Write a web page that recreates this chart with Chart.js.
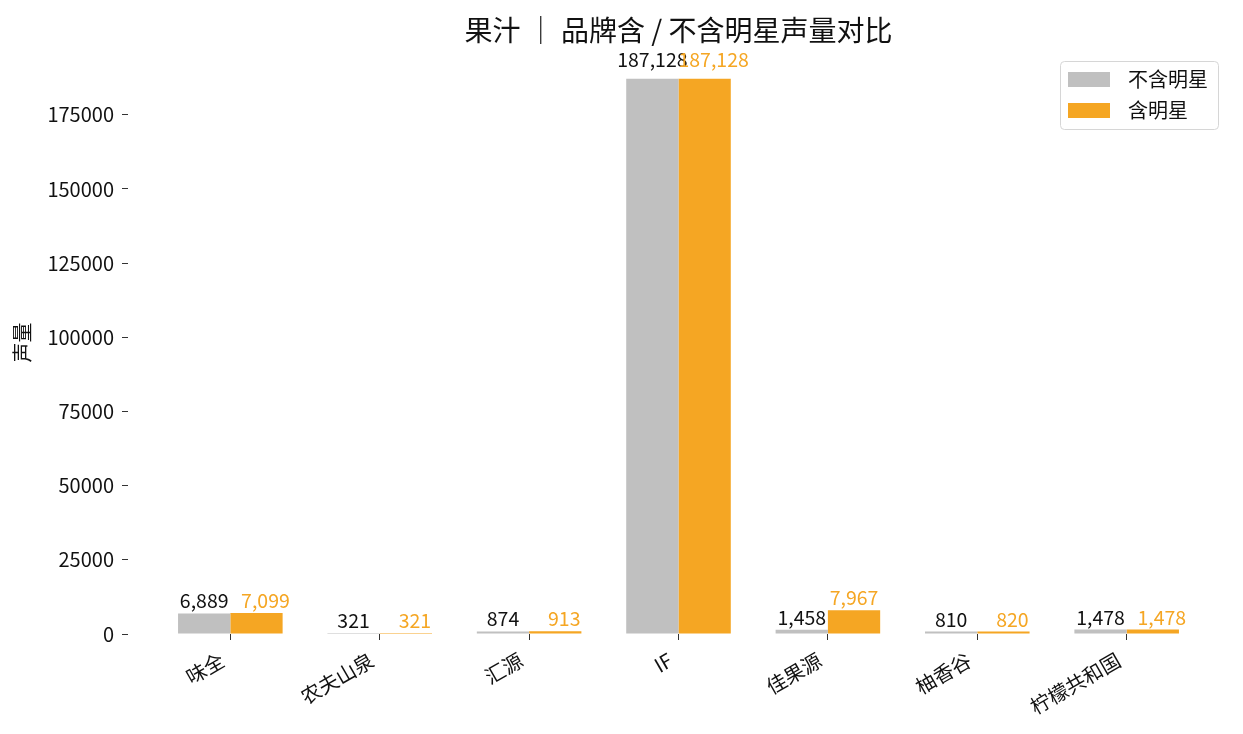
<!DOCTYPE html>
<html>
<head>
<meta charset="utf-8">
<script src="https://cdn.jsdelivr.net/npm/chart.js@4.4.1/dist/chart.umd.min.js"></script>
<style>
  html, body { margin: 0; padding: 0; background: #fff; }
  #wrap { width: 1243px; height: 734px; position: relative; }
</style>
</head>
<body>
<div id="wrap"><canvas id="juiceChart"></canvas></div>
<script>
// 数据
const brands = ['味全', '农夫山泉', '汇源', 'IF', '佳果源', '柚香谷', '柠檬共和国'];
const noStar = [6889, 321, 874, 187128, 1458, 810, 1478];
const withStar = [7099, 321, 913, 187128, 7967, 820, 1478];
const yTicks = [0, 25000, 50000, 75000, 100000, 125000, 150000, 175000];
const chartTitle = '果汁 ｜ 品牌含 / 不含明星声量对比';

const FONT = '"Noto Sans CJK SC", "Noto Sans", sans-serif';
const GREY = '#c0c0c0';
const ORANGE = '#f5a623';

// 标题:居中于绘图区上方
const axesTitle = {
    id: 'axesTitle',
    afterDraw(chart) {
        const ctx = chart.ctx;
        const area = chart.chartArea;
        ctx.save();
        ctx.font = '28px ' + FONT;
        ctx.fillStyle = '#111';
        ctx.textAlign = 'center';
        ctx.textBaseline = 'middle';
        ctx.fillText(chartTitle, (area.left + area.right) / 2, 30);
        ctx.restore();
    }
};

// 柱顶数值标签(两值接近时,含明星标签右移避免重叠)
const valueLabels = {
    id: 'valueLabels',
    afterDatasetsDraw(chart) {
        const ctx = chart.ctx;
        const base = chart.scales.y.getPixelForValue(0);
        ctx.save();
        ctx.font = '19.5px ' + FONT;
        ctx.textAlign = 'center';
        ctx.textBaseline = 'alphabetic';
        chart.data.datasets.forEach((ds, i) => {
            const meta = chart.getDatasetMeta(i);
            ctx.fillStyle = ds.labelColor;
            meta.data.forEach((bar, j) => {
                const a = noStar[j], b = withStar[j];
                const close = Math.abs(a - b) / Math.max(a, b) < 0.2;
                const dx = (i === 1 && close) ? 9 : 0;
                const gap = 5 + 0.0125 * (base - bar.y);
                ctx.fillText(ds.data[j].y.toLocaleString('en-US'), bar.x + dx, bar.y - gap);
            });
        });
        ctx.restore();
    }
};

// 图例(带边框,位于绘图区右上角)
const boxLegend = {
    id: 'boxLegend',
    afterDraw(chart) {
        const ctx = chart.ctx;
        const area = chart.chartArea;
        const w = 158, h = 68;
        const x = area.right - 11 - w, y = area.top + 10;
        ctx.save();
        ctx.beginPath();
        ctx.roundRect(x + 0.5, y + 0.5, w, h, 4);
        ctx.fillStyle = 'rgba(255,255,255,0.8)';
        ctx.fill();
        ctx.strokeStyle = '#d6d6d6';
        ctx.lineWidth = 1;
        ctx.stroke();
        ctx.font = '20px ' + FONT;
        ctx.textBaseline = 'middle';
        chart.data.datasets.forEach((ds, i) => {
            const cy = y + 18 + i * 31;
            ctx.fillStyle = ds.backgroundColor;
            ctx.fillRect(x + 8, cy - 7, 42, 15);
            ctx.fillStyle = '#111';
            ctx.fillText(ds.label, x + 68, cy);
        });
        ctx.restore();
    }
};

new Chart(document.getElementById('juiceChart'), {
    type: 'bar',
    data: {
        datasets: [
            {
                label: '不含明星',
                data: brands.map((b, i) => ({ x: i, y: noStar[i] })),
                backgroundColor: GREY,
                labelColor: '#111'
            },
            {
                label: '含明星',
                data: brands.map((b, i) => ({ x: i, y: withStar[i] })),
                backgroundColor: ORANGE,
                labelColor: ORANGE
            }
        ]
    },
    options: {
        responsive: true,
        maintainAspectRatio: false,
        animation: false,
        categoryPercentage: 0.7,
        barPercentage: 1.0,
        layout: { padding: { left: 0, right: 14, top: 51, bottom: 0 } },
        plugins: {
            legend: { display: false },
            tooltip: { enabled: false },
            title: { display: false }
        },
        scales: {
            x: {
                type: 'linear',
                offset: false,
                min: -0.685,
                max: 6.685,
                afterBuildTicks: (scale) => {
                    scale.ticks = brands.map((b, i) => ({ value: i }));
                },
                afterFit: (scale) => { scale.height = 100; },
                ticks: {
                    autoSkip: false,
                    minRotation: 30,
                    maxRotation: 30,
                    padding: 8,
                    labelOffset: -8,
                    color: '#111',
                    font: { family: FONT, size: 20 },
                    callback: (v) => brands[v]
                },
                grid: { offset: false, drawOnChartArea: false, drawTicks: true, tickLength: 6, color: '#333' },
                border: { display: false }
            },
            y: {
                min: 0,
                max: 196484,
                afterBuildTicks: (scale) => {
                    scale.ticks = yTicks.map(v => ({ value: v }));
                },
                afterFit: (scale) => { scale.width = 128; },
                ticks: {
                    padding: 8,
                    color: '#111',
                    font: { family: FONT, size: 20 },
                    callback: (v) => String(v)
                },
                grid: { drawOnChartArea: false, drawTicks: true, tickLength: 6, color: '#333' },
                border: { display: false },
                title: {
                    display: true,
                    text: '声量',
                    color: '#111',
                    font: { family: FONT, size: 20 },
                    padding: { top: 10, bottom: 0 }
                }
            }
        }
    },
    plugins: [axesTitle, valueLabels, boxLegend]
});
</script>
</body>
</html>
